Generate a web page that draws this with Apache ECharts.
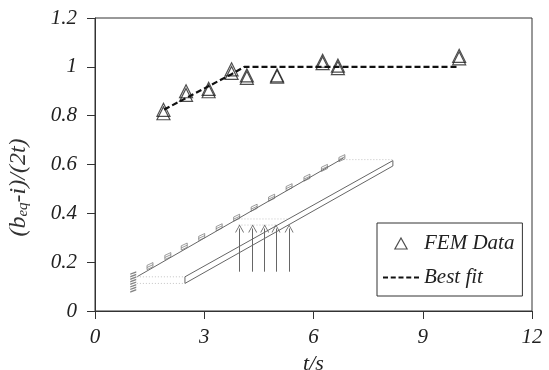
<!DOCTYPE html>
<html>
<head>
<meta charset="utf-8">
<script src="https://cdn.jsdelivr.net/npm/echarts@6/dist/echarts.min.js"></script>
<style>
html,body{margin:0;padding:0;background:#fff}
#myChart{width:549px;height:370px}
</style>
</head>
<body>
<div id="myChart"></div>
<script>
// FEM points, two runs at each time
var femT = [1.88, 2.5, 3.12, 3.75, 4.17, 5, 6.25, 6.67, 10]
var femA = [0.824, 0.9, 0.91, 0.99, 0.965, 0.965, 1.025, 1.005, 1.045]
var femB = [0.81, 0.885, 0.9, 0.975, 0.955, 0.96, 1.015, 0.995, 1.035]

var fitT = [1.9, 3.75, 4.1, 10]
var fitY = [0.825, 0.97, 1, 1]

var xTicks = [0, 3, 6, 9, 12]
var yTicks = [0, 0.2, 0.4, 0.6, 0.8, 1, 1.2]

// sketch inside the plot, in axis units
var cantileverLine = [[1.15, 0.14], [6.82, 0.626]]
var beamEdges = [
  [[2.47, 0.113], [2.47, 0.14], [8.18, 0.616], [8.18, 0.594], [2.47, 0.113]]
]
var dottedGuides = [
  [[1.15, 0.14], [2.47, 0.14]],
  [[1.15, 0.113], [2.47, 0.113]],
  [[6.82, 0.62], [8.18, 0.62]],
  [[3.94, 0.377], [5.33, 0.377]],
  [[3.94, 0.352], [4.99, 0.352]]
]
var arrowT = [3.97, 4.33, 4.66, 4.97, 5.33]
var arrowFrom = 0.161
var arrowTo = 0.338
var hatchT = [1.51, 2, 2.45, 2.93, 3.41, 3.89, 4.37, 4.85, 5.33, 5.82, 6.3, 6.78]
var hatchY = [0.184, 0.225, 0.264, 0.303, 0.343, 0.382, 0.423, 0.464, 0.507, 0.546, 0.586, 0.626]
var wallT = [1.05]
var wallY = [0.119]

var axisColor = '#333'
var sketchColor = '#666'
var fontName = '"Liberation Serif", serif'

var tri = {color: 'transparent', borderColor: '#222', borderWidth: 1.2}
var hatchPath = 'path://M0 10L10 6L10 0L0 4ZM0 7L10 3'
var wallPath = 'path://M0 6L10 0M0 13L10 7M0 20L10 14M0 27L10 21M0 34L10 28M0 41L10 35M0 48L10 42M0 55L10 49'
var dashPath = 'path://M0 0H5V2H0ZM7.75 0H12.75V2H7.75ZM15.5 0H20.5V2H15.5ZM23.25 0H28.25V2H23.25ZM31 0H36V2H31Z'

function zipXY (xs, ys) {
  return xs.map(function (x, n) { return [x, ys[n]] })
}
function plainLine (pts, color, type, width) {
  return {
    type: 'line', data: pts, symbol: 'none', silent: true, animation: false, z: 1,
    lineStyle: {color: color, type: type, width: width}
  }
}

var series = [
  {name: 'FEM Data', type: 'scatter', data: zipXY(femT, femA), symbol: 'triangle', symbolSize: 13, itemStyle: tri, z: 3},
  {name: 'FEM Data', type: 'scatter', data: zipXY(femT, femB), symbol: 'triangle', symbolSize: 13, itemStyle: tri, z: 3},
  {name: 'Best fit', type: 'line', data: zipXY(fitT, fitY), symbol: 'none', z: 4,
    lineStyle: {color: '#111', type: [6, 3], width: 2.2}},
  plainLine(cantileverLine, sketchColor, 'solid', 1)
]
beamEdges.forEach(function (pts) { series.push(plainLine(pts, sketchColor, 'solid', 1)) })
dottedGuides.forEach(function (pts) { series.push(plainLine(pts, '#c4c4c4', [1, 2], 1)) })
series.push({
  type: 'line', data: [], silent: true,
  markLine: {
    silent: true, animation: false,
    symbol: ['none', 'path://M5 0L10 10L9 10L5 2L1 10L0 10Z'],
    symbolSize: [9, 8],
    label: {show: false},
    lineStyle: {color: sketchColor, type: 'solid', width: 1},
    data: arrowT.map(function (t) { return [{coord: [t, arrowFrom]}, {coord: [t, arrowTo]}] })
  }
})
series.push({type: 'scatter', data: zipXY(hatchT, hatchY), symbol: hatchPath, symbolSize: [6, 7], silent: true,
  itemStyle: {color: 'transparent', borderColor: sketchColor, borderWidth: 0.8}})
series.push({type: 'scatter', data: zipXY(wallT, wallY), symbol: wallPath, symbolSize: [6, 20], symbolKeepAspect: false, silent: true,
  itemStyle: {color: 'transparent', borderColor: sketchColor, borderWidth: 0.8}})

var myChart = echarts.init(document.getElementById('myChart'), null, {renderer: 'canvas'})
myChart.setOption({
  animation: false,
  backgroundColor: '#fff',
  grid: {left: 95, right: 17, top: 18, bottom: 59, outerBoundsMode: 'none', show: true, borderColor: axisColor, borderWidth: 1},
  legend: {
    data: [
      {name: 'FEM Data', icon: 'path://M5 0L10 9L0 9Z', itemStyle: {color: 'transparent', borderColor: '#222', borderWidth: 1.2}},
      {name: 'Best fit', icon: dashPath, itemStyle: {color: '#111', borderWidth: 0}}
    ],
    orient: 'vertical', left: 377, top: 223,
    padding: [10, 8, 8, 6], itemGap: 13, itemWidth: 36, itemHeight: 11,
    borderColor: axisColor, borderWidth: 1, backgroundColor: '#fff',
    textStyle: {fontFamily: fontName, fontStyle: 'italic', fontSize: 21, color: '#222'}
  },
  xAxis: {
    type: 'value', min: 0, max: 12, interval: 3, splitLine: {show: false},
    name: 't/s', nameLocation: 'middle', nameGap: 41,
    nameTextStyle: {fontFamily: fontName, fontStyle: 'italic', fontSize: 22, color: '#222'},
    axisLine: {onZero: false, lineStyle: {color: axisColor}},
    axisTick: {length: 8, lineStyle: {color: axisColor}},
    axisLabel: {margin: 16, fontFamily: fontName, fontStyle: 'italic', fontSize: 21, color: '#222',
      formatter: function (v) { return xTicks.indexOf(v) >= 0 ? String(v) : '' }}
  },
  yAxis: {
    type: 'value', min: 0, max: 1.2, interval: 0.2, splitLine: {show: false},
    name: '{m|(b}{s|eq}{m|-i)/(2t)}', nameLocation: 'middle', nameGap: 64,
    nameTextStyle: {
      padding: [0, 46, 0, 0],
      rich: {
        m: {fontFamily: fontName, fontStyle: 'italic', fontWeight: 'normal', fontSize: 24, color: '#333'},
        s: {fontFamily: fontName, fontStyle: 'italic', fontWeight: 'normal', fontSize: 15, color: '#333', verticalAlign: 'bottom', padding: [10, 0, 0, 0]}
      }
    },
    axisLine: {onZero: false, lineStyle: {color: axisColor}},
    axisTick: {length: 8, lineStyle: {color: axisColor}},
    axisLabel: {margin: 18, fontFamily: fontName, fontStyle: 'italic', fontSize: 21, color: '#222',
      formatter: function (v) {
        var hit = yTicks.filter(function (t) { return Math.abs(t - v) < 1e-6 })
        return hit.length ? String(hit[0]) : ''
      }}
  },
  series: series
})
</script>
</body>
</html>
